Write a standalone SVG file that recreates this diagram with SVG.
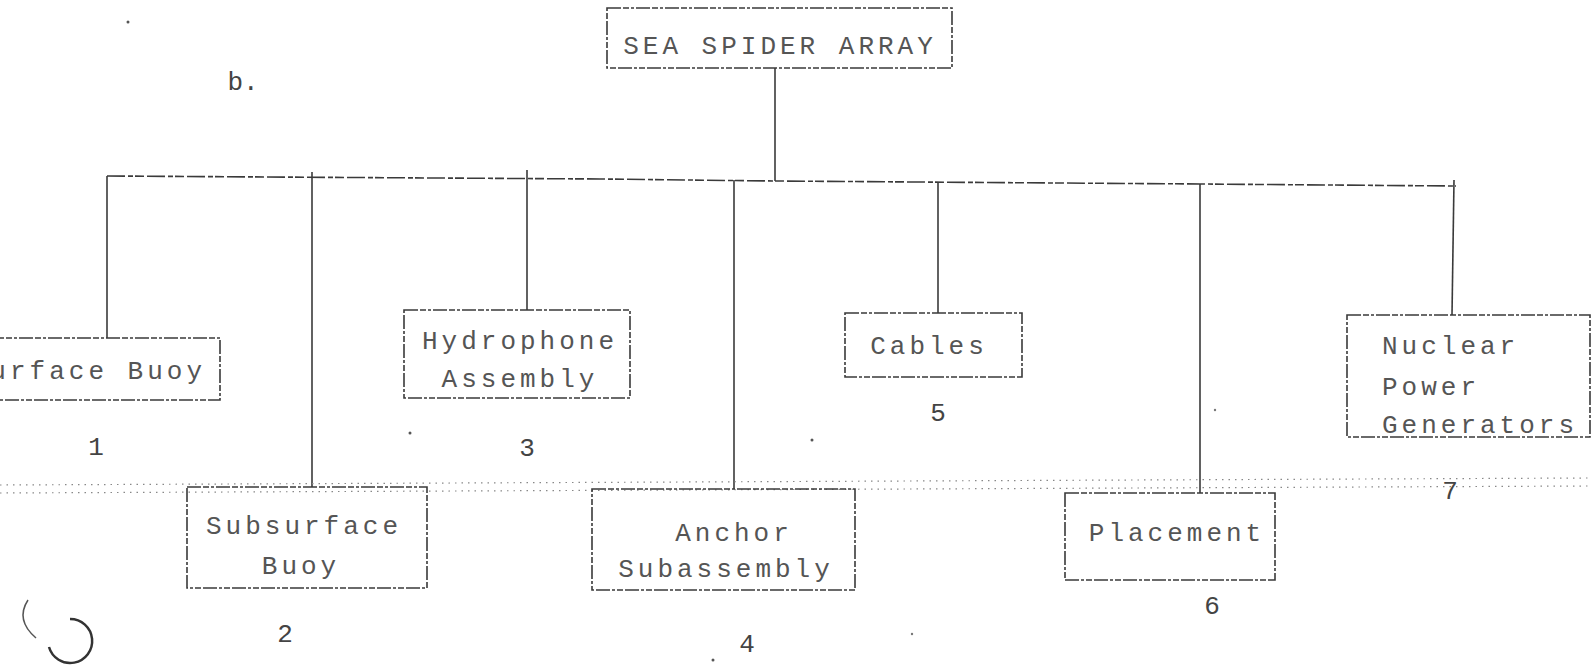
<svg xmlns="http://www.w3.org/2000/svg" width="1591" height="666" viewBox="0 0 1591 666">
<style>
.box{fill:none;stroke:#3a3a3a;stroke-width:1.6;stroke-dasharray:14 2 6 2 3 2}
.t{font-family:"Liberation Mono","DejaVu Sans Mono",monospace;font-size:26px;letter-spacing:4px;fill:#555}
.c{text-anchor:middle}
.n{font-family:"Liberation Mono","DejaVu Sans Mono",monospace;font-size:26px;fill:#444;text-anchor:middle}
.ln{fill:none;stroke:#3a3a3a;stroke-width:1.6}
.bus{fill:none;stroke:#3a3a3a;stroke-width:1.6;stroke-dasharray:18 3 5 2 9 3}
.dot{fill:none;stroke:#888;stroke-width:1.2;stroke-dasharray:1.5 5}
</style>
<rect width="1591" height="666" fill="#fff"/>
<g id="connectors">
<line class="ln" x1="775" y1="68" x2="775" y2="181"/>
<polyline class="bus" points="107,176 600,179 775,181 1200,184 1456,186"/>
<line class="ln" x1="107" y1="176" x2="107" y2="338"/>
<line class="ln" x1="312" y1="172" x2="312" y2="487"/>
<line class="ln" x1="527" y1="170" x2="527" y2="310"/>
<line class="ln" x1="734" y1="180" x2="734" y2="489"/>
<line class="ln" x1="938" y1="182" x2="938" y2="313"/>
<line class="ln" x1="1200" y1="184" x2="1200" y2="493"/>
<line class="ln" x1="1454" y1="180" x2="1452" y2="315"/>
</g>
<g id="fold">
<line class="dot" x1="0" y1="485" x2="1591" y2="478"/>
<line class="dot" x1="0" y1="493" x2="1591" y2="486"/>
</g>
<g id="n0">
<rect class="box" x="607" y="8" width="345" height="60"/>
<text class="t c" x="780" y="54">SEA SPIDER ARRAY</text>
</g>
<g id="n1">
<rect class="box" x="-10" y="338" width="230" height="62"/>
<text class="t" x="206" y="379" text-anchor="end">Surface Buoy</text>
<text class="n" x="96" y="455">1</text>
</g>
<g id="n2">
<rect class="box" x="187" y="487" width="240" height="101"/>
<text class="t c" x="304" y="534">Subsurface</text>
<text class="t c" x="301" y="574">Buoy</text>
<text class="n" x="285" y="642">2</text>
</g>
<g id="n3">
<rect class="box" x="404" y="310" width="226" height="88"/>
<text class="t c" x="520" y="349">Hydrophone</text>
<text class="t c" x="520" y="387">Assembly</text>
<text class="n" x="527" y="456">3</text>
</g>
<g id="n4">
<rect class="box" x="592" y="489" width="263" height="101"/>
<text class="t c" x="734" y="541">Anchor</text>
<text class="t c" x="726" y="577">Subassembly</text>
<text class="n" x="747" y="652">4</text>
</g>
<g id="n5">
<rect class="box" x="845" y="313" width="177" height="64"/>
<text class="t c" x="929" y="354">Cables</text>
<text class="n" x="938" y="421">5</text>
</g>
<g id="n6">
<rect class="box" x="1065" y="493" width="210" height="87"/>
<text class="t c" x="1177" y="541">Placement</text>
<text class="n" x="1212" y="614">6</text>
</g>
<g id="n7">
<rect class="box" x="1347" y="315" width="243" height="122"/>
<text class="t" x="1382" y="354">Nuclear</text>
<text class="t" x="1382" y="395">Power</text>
<text class="t" x="1382" y="433">Generators</text>
<text class="n" x="1450" y="499">7</text>
</g>
<g id="marks">
<text class="n" x="243" y="90">b.</text>
<path d="M70,619 A22,22 0 1 1 49,647" fill="none" stroke="#333" stroke-width="2.5"/>
<path d="M28,600 Q15,620 36,638" fill="none" stroke="#555" stroke-width="1.5"/>
<circle cx="128" cy="22" r="1.5" fill="#555"/>
<circle cx="812" cy="440" r="1.5" fill="#555"/>
<circle cx="410" cy="433" r="1.5" fill="#555"/>
<circle cx="713" cy="660" r="1.5" fill="#555"/>
<circle cx="1215" cy="410" r="1.2" fill="#777"/>
<circle cx="912" cy="634" r="1.2" fill="#777"/>
</g>
</svg>
